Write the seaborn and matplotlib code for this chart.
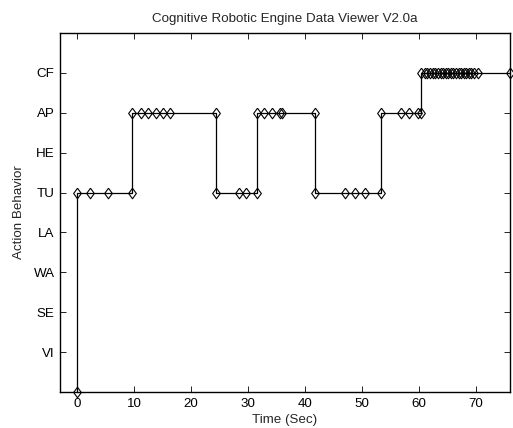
import matplotlib
matplotlib.use("Agg")
import matplotlib.pyplot as plt
import seaborn as sns
import pandas as pd

behaviors = ["VI", "SE", "WA", "LA", "TU", "HE", "AP", "CF"]

time_sec = [0, 0, 2.2, 5.5, 9.7,
            9.7, 11.2, 12.5, 13.8, 15.1, 16.3, 24.4,
            24.4, 28.4, 29.7, 31.6,
            31.6, 32.9, 34.3, 35.6, 35.9, 41.8,
            41.8, 47.0, 48.8, 50.5, 53.4,
            53.4, 56.9, 58.3, 59.8, 60.4,
            60.4, 61.0, 61.5, 61.9, 62.4, 62.8, 63.3, 63.8, 64.2, 64.7, 65.1,
            65.6, 66.0, 66.5, 67.0, 67.4, 67.9, 68.3, 68.8, 69.2, 69.7, 70.4, 76.0]

state_code = [0, 5, 5, 5, 5,
              7, 7, 7, 7, 7, 7, 7,
              5, 5, 5, 5,
              7, 7, 7, 7, 7, 7,
              5, 5, 5, 5, 5,
              7, 7, 7, 7, 7,
              8, 8, 8, 8, 8, 8, 8, 8, 8, 8, 8,
              8, 8, 8, 8, 8, 8, 8, 8, 8, 8, 8, 8]

sns.set_style("ticks")
plt.rcParams['font.family'] = ['Liberation Sans', 'DejaVu Sans']
plt.rcParams['xtick.direction'] = 'in'
plt.rcParams['ytick.direction'] = 'in'

df = pd.DataFrame({"t": time_sec, "s": state_code})

fig = plt.figure(figsize=(5.13, 4.28), dpi=100)
ax = fig.add_axes([60/513, 36/428, 450/513, 359/428])

diamond = [(0, 1), (0.73, 0), (0, -1), (-0.73, 0), (0, 1)]
sns.lineplot(data=df, x="t", y="s", estimator=None, sort=False, ax=ax,
             drawstyle="steps-post", color="black", linewidth=0.9,
             marker=diamond, markersize=7.6, markerfacecolor="none",
             markeredgecolor="black", markeredgewidth=0.8, clip_on=False)

fs = 9.6
ax.set_xlim(-3, 76)
ax.set_ylim(0, 9)
ax.set_xticks([0, 10, 20, 30, 40, 50, 60, 70])
ax.set_yticks(range(1, 9))
ax.set_yticklabels(behaviors)
ax.tick_params(axis='both', labelsize=fs, length=4, width=0.6, top=True, right=True,
               colors='black', pad=4)
for sp in ax.spines.values():
    sp.set_linewidth(1.0)
    sp.set_color('black')
    sp.set_visible(True)
ax.set_xlabel("Time (Sec)", fontsize=fs, labelpad=3)
ax.set_ylabel("Action Behavior", fontsize=fs, labelpad=6)
ax.set_title("Cognitive Robotic Engine Data Viewer V2.0a", fontsize=fs, pad=8)

fig.savefig("out.png", dpi=100)
